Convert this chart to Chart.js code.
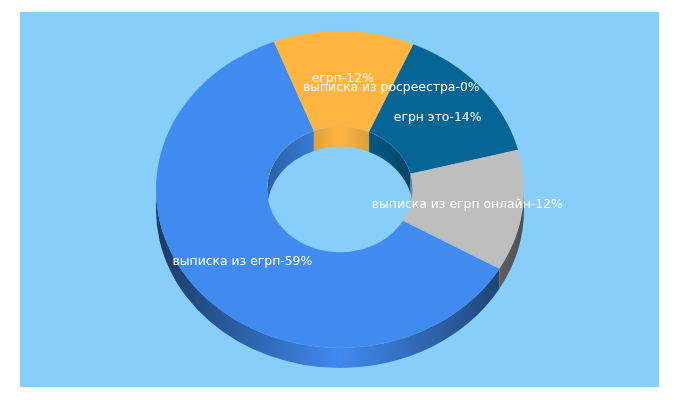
<!DOCTYPE html>
<html>
<head>
<meta charset="utf-8">
<title>выписка из егрп</title>
<script src="https://cdn.jsdelivr.net/npm/chart.js@4"></script>
<style>
  html, body { margin: 0; padding: 0; background: #fff; }
  #wrap { position: relative; width: 680px; height: 400px; overflow: hidden; }
  #panel { position: absolute; left: 20px; top: 12px; width: 639px; height: 375px; background: #87cefa; }
  #chart { position: absolute; left: 0; top: 0; }
</style>
</head>
<body>
<div id="wrap">
  <div id="panel"></div>
  <canvas id="chart" width="680" height="400"></canvas>
</div>
<script>
const categories = [
  "выписка из егрп",
  "егрп",
  "выписка из росреестра",
  "егрн это",
  "выписка из егрп онлайн",
];
const shares = [59, 12, 0, 14, 12];
const sliceColors = ["#408af0", "#ffb540", "#dc3912", "#056595", "#bebebe"];

// the 3d look: ring is squashed vertically and gets a wall below it
const SQUASH = 0.861;
const DEPTH = 20;

function shade(hex, f) {
  const n = parseInt(hex.slice(1), 16);
  const r = Math.round((n >> 16) * f);
  const g = Math.round(((n >> 8) & 255) * f);
  const b = Math.round((n & 255) * f);
  return `rgb(${r}, ${g}, ${b})`;
}

function wallGradient(ctx, cx, radius, color, edge) {
  const g = ctx.createLinearGradient(cx - radius, 0, cx + radius, 0);
  g.addColorStop(0, shade(color, edge));
  g.addColorStop(0.5, color);
  g.addColorStop(1, shade(color, edge));
  return g;
}

function wall(ctx, cx, cy, radius, a0, a1) {
  ctx.beginPath();
  ctx.ellipse(cx, cy, radius, radius * SQUASH, 0, a0, a1);
  ctx.ellipse(cx, cy + DEPTH, radius, radius * SQUASH, 0, a1, a0, true);
  ctx.closePath();
}

const ring3d = {
  id: "ring3d",
  beforeDatasetsDraw(chart) {
    const ctx = chart.ctx;
    const arcs = chart.getDatasetMeta(0).data;
    const cx = arcs[0].x;
    const cy = arcs[0].y;
    const outer = arcs[0].outerRadius;
    const inner = arcs[0].innerRadius;
    const TWO_PI = Math.PI * 2;

    // outer wall, only the front half shows
    arcs.forEach((arc, i) => {
      for (const k of [-1, 0, 1]) {
        const a0 = Math.max(arc.startAngle + k * TWO_PI, 0);
        const a1 = Math.min(arc.endAngle + k * TWO_PI, Math.PI);
        if (a1 <= a0) continue;
        wall(ctx, cx, cy, outer, a0, a1);
        ctx.fillStyle = wallGradient(ctx, cx, outer, sliceColors[i], 0.42);
        ctx.fill();
      }
    });

    // inner wall, back half seen through the hole
    ctx.save();
    ctx.beginPath();
    ctx.ellipse(cx, cy, inner, inner * SQUASH, 0, 0, TWO_PI);
    ctx.clip();
    arcs.forEach((arc, i) => {
      for (const k of [-1, 0, 1]) {
        const a0 = Math.max(arc.startAngle + k * TWO_PI, Math.PI);
        const a1 = Math.min(arc.endAngle + k * TWO_PI, TWO_PI);
        if (a1 <= a0) continue;
        wall(ctx, cx, cy, inner, a0, a1);
        ctx.fillStyle = wallGradient(ctx, cx, inner, sliceColors[i], 0.68);
        ctx.fill();
      }
    });
    ctx.restore();

    // squash the faces chart.js is about to draw
    ctx.save();
    ctx.translate(0, cy);
    ctx.scale(1, SQUASH);
    ctx.translate(0, -cy);
  },
  afterDatasetsDraw(chart) {
    const ctx = chart.ctx;
    ctx.restore();

    const arcs = chart.getDatasetMeta(0).data;
    ctx.save();
    ctx.font = "12.4px 'DejaVu Sans'";
    ctx.fillStyle = "#fff";
    ctx.textAlign = "center";
    ctx.textBaseline = "middle";
    arcs.forEach((arc, i) => {
      const p = arc.getCenterPoint();
      const y = arc.y + (p.y - arc.y) * SQUASH;
      ctx.fillText(`${categories[i]}-${shares[i]}%`, p.x, y);
    });
    ctx.restore();
  },
};

new Chart(document.getElementById("chart").getContext("2d"), {
  type: "doughnut",
  data: {
    labels: categories,
    datasets: [
      {
        data: shares,
        backgroundColor: sliceColors,
        borderWidth: 0,
      },
    ],
  },
  options: {
    responsive: false,
    animation: false,
    rotation: 120,
    radius: 184,
    cutout: "39.6%",
    layout: { padding: { bottom: 21 } },
    events: [],
    plugins: {
      legend: { display: false },
      tooltip: { enabled: false },
    },
  },
  plugins: [ring3d],
});
</script>
</body>
</html>
